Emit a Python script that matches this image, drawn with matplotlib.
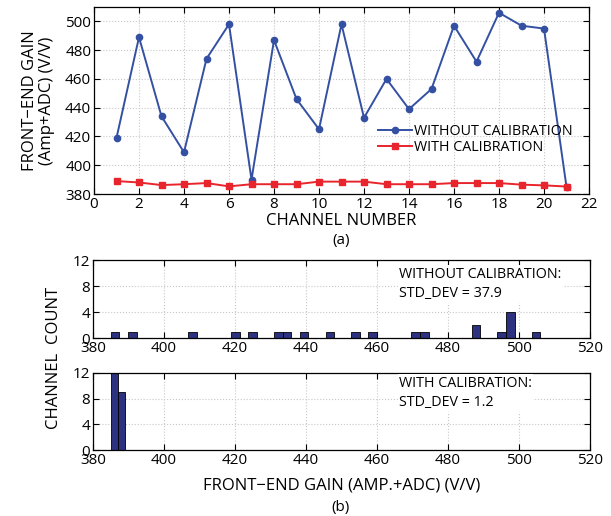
import numpy as np
import matplotlib
matplotlib.use("Agg")
import matplotlib.pyplot as plt

plt.rcParams['font.family'] = ['Open Sans', 'DejaVu Sans']
plt.rcParams['xtick.direction'] = 'in'
plt.rcParams['ytick.direction'] = 'in'

# front-end gain per channel
channels = list(range(1, 22))
gain_without = [419, 489, 434, 409, 474, 498, 390, 487, 446, 425, 498,
                433, 460, 439, 453, 497, 472, 506, 497, 495, 385]
gain_with = [389.0, 388.0, 386.2, 386.8, 387.6, 385.3, 386.8, 386.8, 386.8, 388.6, 388.6,
             388.6, 386.8, 386.8, 386.8, 387.6, 387.6, 387.6, 386.5, 386.0, 385.2]
std_without = 37.9
std_with = 1.2

blue = '#3450a2'
red = '#e8242c'
bar_col = '#2c3180'
grid_kw = dict(color='#c8c8c8', linestyle=':', linewidth=0.8)


def style(ax):
    ax.tick_params(top=True, right=True, labelsize=11, length=4, width=0.8, pad=2)
    ax.grid(True, **grid_kw)
    ax.set_axisbelow(True)
    for s in ax.spines.values():
        s.set_linewidth(0.9)


fig = plt.figure(figsize=(6.11, 5.16), dpi=100)

# (a) gain vs channel
ax = fig.add_axes([94/611, 1-194/516, 495/611, 187/516])
ax.plot(channels, gain_without, marker='o', ms=4.5, color=blue, lw=1.4, label='WITHOUT CALIBRATION')
ax.plot(channels, gain_with, marker='s', ms=4, color=red, lw=1.4, label='WITH CALIBRATION')
ax.set_xlim(0, 22)
ax.set_ylim(380, 510)
ax.set_xticks(range(0, 23, 2))
ax.set_yticks(range(380, 501, 20))
style(ax)
ax.set_xlabel('CHANNEL NUMBER', fontsize=12, labelpad=1)
ax.set_ylabel('FRONT\u2212END GAIN\n(Amp+ADC) (V/V)', fontsize=12, labelpad=7, linespacing=1.1)
ax.legend(loc='center left', bbox_to_anchor=(284/495, (194-139.5)/187), frameon=False, fontsize=10.3,
          handlelength=2.4, handletextpad=0.1, labelspacing=0.12, borderpad=0, borderaxespad=0)
fig.text(341/611, 1-241/516, '(a)', ha='center', va='center', fontsize=11)

# (b) histograms
ax1 = fig.add_axes([93/611, 1-338/516, 497/611, 78/516])
ax1.hist(gain_without, bins=50, color=bar_col, edgecolor='black', linewidth=0.6)
ax2 = fig.add_axes([93/611, 1-450/516, 497/611, 77/516])
ax2.hist(gain_with, bins=2, color=bar_col, edgecolor='black', linewidth=0.6)
for a in (ax1, ax2):
    a.set_xlim(380, 520)
    a.set_ylim(0, 12)
    a.set_xticks(range(380, 521, 20))
    a.set_yticks([0, 4, 8, 12])
    style(a)

ax1.text(306/497, 1-(284-260)/78, 'WITHOUT CALIBRATION:\nSTD_DEV = %.1f' % std_without, transform=ax1.transAxes,
         ha='left', va='center', fontsize=10.3, linespacing=1.45,
         bbox=dict(facecolor='white', edgecolor='none', pad=1))
ax2.text(306/497, 1-(393-373)/77, 'WITH CALIBRATION:\nSTD_DEV = %.1f' % std_with, transform=ax2.transAxes,
         ha='left', va='center', fontsize=10.3, linespacing=1.45,
         bbox=dict(facecolor='white', edgecolor='none', pad=1))

ax2.set_xlabel('FRONT\u2212END GAIN (AMP.+ADC) (V/V)', fontsize=12, labelpad=7)
fig.text(54/611, 1-358/516, 'CHANNEL  COUNT', rotation=90, ha='center', va='center', fontsize=12)
fig.text(341/611, 1-507/516, '(b)', ha='center', va='center', fontsize=11)

fig.savefig('out.png', dpi=100)
